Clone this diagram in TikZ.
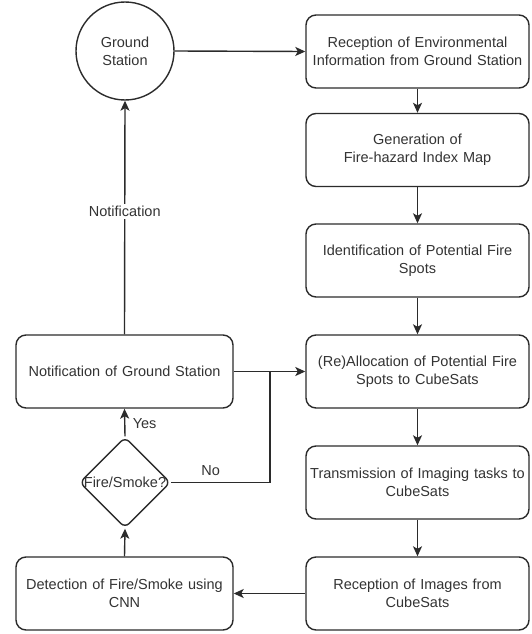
\documentclass[tikz,border=0pt]{standalone}
\usepackage{fontspec}
\setmainfont{Liberation Sans}
\usetikzlibrary{shapes.geometric,arrows.meta}
\definecolor{ink}{HTML}{2B2B2B}
\definecolor{txt}{HTML}{333333}
\begin{document}
\begin{tikzpicture}[x=1pt,y=-1pt,
  every node/.style={font=\fontsize{14.5}{17.7}\selectfont, text=txt},
  proc/.style={draw=ink, line width=1.4pt, rounded corners=10pt, align=center, inner sep=0pt},
  rbox/.style={proc, minimum width=223pt, minimum height=73pt, text width=222pt},
  lbox/.style={proc, minimum width=217pt, minimum height=73pt, text width=216pt},
  conn/.style={draw=ink, line width=1.4pt},
  arr/.style={conn, -{Stealth[length=10pt,width=9pt,inset=2.5pt]}}
]
\useasboundingbox (0,0) rectangle (531,634);
\node[draw=ink, line width=1.4pt, circle, minimum size=98pt, inner sep=0pt, align=center] (gs) at (125,51) {Ground\\Station};
\node[rbox] (r1) at (417.5,51.5) {Reception of Environmental\\Information from Ground Station};
\node[rbox] (r2) at (417.5,150) {Generation of\\Fire-hazard Index Map};
\node[rbox] (r3) at (417.5,260.5) {Identification of Potential Fire\\Spots};
\node[rbox] (r4) at (417.5,371.5) {(Re)Allocation of Potential Fire\\Spots to CubeSats};
\node[rbox] (r5) at (417.5,482.5) {Transmission of Imaging tasks to\\CubeSats};
\node[rbox] (r6) at (417.5,593.5) {Reception of Images from\\CubeSats};
\node[lbox] (ngs) at (124.5,371.5) {Notification of Ground Station};
\node[lbox] (det) at (124.5,593.5) {Detection of Fire/Smoke using\\CNN};
\node[draw=ink, line width=1.4pt, diamond, aspect=1, minimum size=91pt, inner sep=0pt, rounded corners=6pt] (dia) at (125,482.5) {};
\node[inner sep=0pt] (dialabel) at (dia.center) {Fire/Smoke?};
\coordinate (nojoin) at (270,482.5);

\draw[arr] (gs.east) -- (r1.west);
\draw[arr] (r1.south) -- (r2.north);
\draw[arr] (r2.south) -- (r3.north);
\draw[arr] (r3.south) -- (r4.north);
\draw[arr] (r4.south) -- (r5.north);
\draw[arr] (r5.south) -- (r6.north);
\draw[arr] (r6.west) -- (det.east);
\draw[arr] (det.north) -- (dia.south);
\draw[arr] (dia.north) -- node[right=4pt, pos=0.45] (yes) {Yes} (ngs.south);
\draw[conn] (dia.east) -- node[above=3pt, pos=0.4] (no) {No} (nojoin) -- (nojoin |- ngs.east);
\draw[arr] (ngs.east) -- (r4.west);
\draw[arr] (ngs.north) -- node[fill=white, inner sep=2pt, pos=0.525] (notif) {Notification} (gs.south);
\end{tikzpicture}
\end{document}
